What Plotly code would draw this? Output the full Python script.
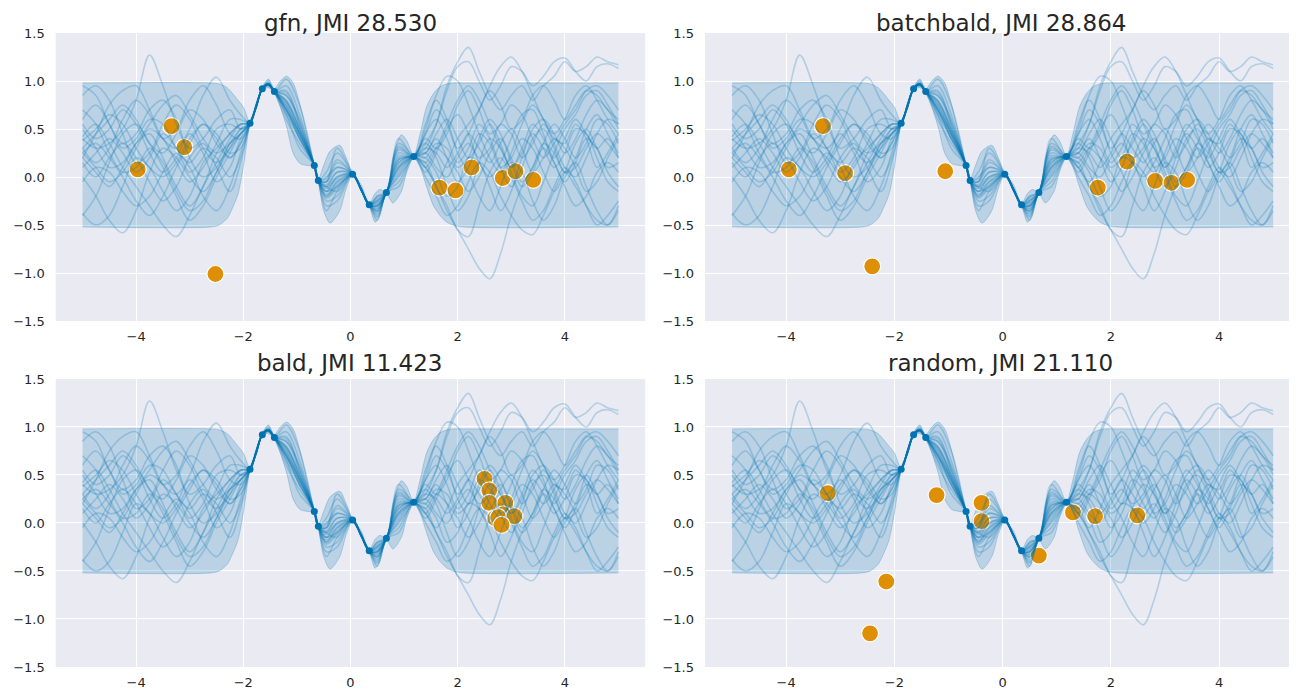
import plotly.graph_objects as go

BLUE = "#0173B2"
ORANGE = "#DE8F05"
LINE_RGBA = "rgba(1,115,178,0.24)"
FILL_RGBA = "rgba(1,115,178,0.2)"

titles = ["gfn, JMI 28.530", "batchbald, JMI 28.864", "bald, JMI 11.423", "random, JMI 21.110"]

x_ticks = [-4, -2, 0, 2, 4]
x_ticktext = ["\u22124", "\u22122", "0", "2", "4"]
y_ticks = [-1.5, -1.0, -0.5, 0.0, 0.5, 1.0, 1.5]
y_ticktext = ["\u22121.5", "\u22121.0", "\u22120.5", "0.0", "0.5", "1.0", "1.5"]

# observed (training) points
train_x = [-1.875, -1.645, -1.42, -0.675, -0.60, 0.04, 0.35, 0.67, 1.18]
train_y = [0.56, 0.92, 0.89, 0.12, -0.035, 0.03, -0.29, -0.16, 0.215]

# acquired points per method
gfn_x = [-3.97, -3.34, -3.10, -2.52, 1.66, 1.96, 2.26, 2.84, 3.08, 3.41]
gfn_y = [0.08, 0.53, 0.31, -1.01, -0.11, -0.14, 0.10, -0.01, 0.06, -0.03]
batchbald_x = [-3.95, -3.32, -2.91, -2.41, -1.06, 1.76, 2.30, 2.82, 3.12, 3.41]
batchbald_y = [0.08, 0.53, 0.04, -0.93, 0.06, -0.11, 0.16, -0.04, -0.06, -0.03]
bald_x = [2.50, 2.59, 2.59, 2.89, 2.85, 2.70, 2.76, 3.06, 2.82]
bald_y = [0.46, 0.34, 0.21, 0.21, 0.09, 0.05, 0.06, 0.07, -0.02]
random_x = [-3.23, -2.15, -2.45, -1.22, -0.39, -0.39, 0.67, 1.30, 1.71, 2.49]
random_y = [0.31, -0.61, -1.15, 0.29, 0.21, 0.02, -0.34, 0.11, 0.07, 0.08]

# posterior band (mean +/- 2 std)
band_x = [-5.0, -2.6, -2.45, -2.3, -2.2, -2.1, -2.0, -1.875, -1.76, -1.645, -1.53, -1.42,
          -1.31, -1.19, -1.07, -0.94, -0.8, -0.675, -0.6, -0.5, -0.38, -0.2, -0.08, 0.04,
          0.2, 0.35, 0.46, 0.55, 0.67, 0.79, 0.95, 1.05, 1.18, 1.3, 1.42, 1.55, 1.67, 1.8,
          1.91, 2.1, 5.0]
band_upper = [0.98, 0.98, 0.97, 0.93, 0.87, 0.80, 0.73, 0.57, 0.77, 0.94, 1.02, 0.92,
              1.00, 1.05, 0.98, 0.75, 0.42, 0.13, -0.02, 0.12, 0.27, 0.33, 0.20, 0.04,
              -0.08, -0.28, -0.17, -0.13, -0.15, 0.20, 0.44, 0.38, 0.22, 0.45, 0.73, 0.87,
              0.94, 0.97, 0.98, 0.98, 0.98]
band_lower = [-0.52, -0.52, -0.50, -0.43, -0.32, -0.18, 0.10, 0.55, 0.72, 0.91, 0.93, 0.87,
              0.73, 0.52, 0.25, 0.14, 0.12, 0.11, -0.05, -0.35, -0.48, -0.35, -0.12, 0.02,
              -0.15, -0.30, -0.47, -0.40, -0.17, -0.27, -0.15, 0.05, 0.20, 0.10, -0.10, -0.30,
              -0.40, -0.47, -0.50, -0.52, -0.52]

# posterior sample paths
left_x = [-5.0, -4.75, -4.5, -4.25, -4.0, -3.75, -3.5, -3.25, -3.0, -2.75, -2.5, -2.25]
mid_x = [-2.05, -1.76, -1.53, -1.2, -0.95, -0.45, -0.25, 0.2, 0.5, 0.9]
right_x = [1.4, 1.6, 1.8, 2.0, 2.2, 2.4, 2.6, 2.8, 3.0, 3.2, 3.4, 3.6, 3.8, 4.0, 4.2, 4.4,
           4.6, 4.8, 5.0]

samples_left = [
    [0.40, 0.30, 0.35, 0.50, 0.80, 1.27, 0.95, 0.55, 0.30, 0.40, 0.60, 0.70],
    [0.95, 0.85, 0.55, 0.35, 0.45, 0.70, 0.80, 0.60, 0.20, 0.00, 0.10, 0.35],
    [-0.38, -0.50, -0.40, -0.10, 0.20, 0.10, -0.15, -0.35, -0.20, 0.15, 0.30, 0.45],
    [0.20, 0.45, 0.75, 0.90, 0.95, 0.70, 0.40, 0.30, 0.50, 0.85, 1.04, 0.80],
    [0.00, -0.20, -0.45, -0.58, -0.35, 0.05, 0.30, 0.20, 0.00, -0.15, 0.05, 0.35],
    [0.85, 0.95, 0.80, 0.45, 0.15, 0.25, 0.55, 0.75, 0.60, 0.30, 0.15, 0.30],
    [0.50, 0.30, 0.10, 0.15, 0.35, 0.45, 0.20, -0.10, -0.30, -0.10, 0.25, 0.45],
    [0.25, 0.35, 0.20, 0.00, -0.25, -0.40, -0.20, 0.10, 0.35, 0.55, 0.40, 0.20],
    [-0.40, -0.20, 0.15, 0.45, 0.55, 0.35, 0.10, -0.20, -0.45, -0.30, 0.00, 0.25],
    [0.30, 0.15, 0.30, 0.60, 0.80, 0.65, 0.40, 0.50, 0.80, 0.95, 0.75, 0.45],
    [0.10, 0.25, 0.40, 0.25, 0.05, 0.20, 0.45, 0.30, 0.05, 0.20, 0.50, 0.55],
    [0.60, 0.75, 0.55, 0.30, 0.40, 0.60, 0.55, 0.30, 0.15, 0.30, 0.20, 0.00],
    [0.42, 0.55, 0.35, 0.10, -0.10, -0.30, -0.50, -0.62, -0.40, -0.10, 0.15, 0.40],
    [0.38, 0.50, 0.65, 0.55, 0.30, 0.10, 0.00, 0.15, 0.40, 0.55, 0.45, 0.25],
    [-0.05, 0.10, 0.05, -0.15, -0.30, -0.20, 0.05, 0.25, 0.10, -0.20, -0.35, -0.10],
    [0.20, 0.05, -0.10, 0.10, 0.35, 0.55, 0.75, 0.85, 0.65, 0.40, 0.25, 0.35],
    [0.30, 0.45, 0.60, 0.75, 0.60, 0.35, 0.25, 0.45, 0.70, 0.60, 0.35, 0.20],
    [0.15, 0.00, 0.20, 0.35, 0.20, -0.05, -0.25, -0.10, 0.20, 0.35, 0.10, -0.15],
    [0.70, 0.55, 0.25, 0.05, 0.10, 0.30, 0.15, -0.15, -0.35, -0.25, 0.05, 0.30],
    [0.25, 0.10, -0.05, 0.05, 0.30, 0.50, 0.40, 0.15, -0.05, 0.10, 0.35, 0.60],
    [0.55, 0.40, 0.50, 0.70, 0.55, 0.25, 0.05, 0.20, 0.45, 0.25, -0.05, 0.10],
]
samples_mid = [
    [0.50, 0.74, 0.97, 0.80, 0.50, -0.10, 0.00, -0.13, -0.30, 0.20],
    [0.45, 0.73, 0.95, 0.70, 0.45, -0.15, -0.10, -0.14, -0.40, 0.00],
    [0.55, 0.75, 1.00, 0.95, 0.65, 0.05, 0.25, -0.12, -0.20, 0.35],
    [0.65, 0.75, 0.98, 0.75, 0.45, -0.20, -0.05, -0.13, -0.35, 0.10],
    [0.50, 0.74, 0.96, 0.65, 0.40, -0.05, 0.10, -0.12, -0.25, 0.15],
    [0.45, 0.73, 0.96, 0.85, 0.55, -0.10, -0.15, -0.14, -0.30, 0.25],
    [0.55, 0.74, 0.97, 0.60, 0.35, -0.25, -0.20, -0.13, -0.45, -0.10],
    [0.35, 0.72, 0.95, 0.72, 0.40, -0.10, 0.05, -0.13, -0.28, 0.18],
    [0.45, 0.74, 0.96, 0.78, 0.50, -0.05, 0.30, -0.12, -0.22, 0.30],
    [0.40, 0.73, 0.97, 1.02, 0.75, -0.15, -0.05, -0.13, -0.38, 0.05],
    [0.50, 0.74, 0.96, 0.70, 0.45, -0.30, -0.25, -0.13, -0.33, 0.12],
    [0.20, 0.72, 0.97, 0.85, 0.60, -0.05, 0.15, -0.13, -0.20, 0.40],
    [0.55, 0.74, 0.96, 0.65, 0.30, -0.35, -0.15, -0.13, -0.42, -0.05],
    [0.30, 0.73, 0.98, 0.90, 0.55, 0.00, 0.10, -0.13, -0.25, 0.28],
    [0.25, 0.73, 0.96, 0.75, 0.45, -0.20, -0.10, -0.13, -0.35, 0.08],
    [0.45, 0.74, 0.97, 0.68, 0.42, -0.12, -0.02, -0.13, -0.30, 0.15],
    [0.35, 0.73, 0.96, 0.80, 0.52, -0.08, 0.05, -0.13, -0.27, 0.22],
    [0.15, 0.72, 0.97, 0.72, 0.48, -0.15, 0.00, -0.13, -0.32, 0.10],
    [0.50, 0.74, 0.97, 0.78, 0.48, -0.18, -0.08, -0.13, -0.30, 0.18],
    [0.60, 0.75, 0.97, 0.88, 0.58, -0.02, 0.18, -0.12, -0.24, 0.32],
    [0.40, 0.73, 0.96, 0.70, 0.40, -0.22, -0.12, -0.13, -0.36, 0.02],
]
samples_right = [
    [0.30, 0.55, 0.95, 1.20, 1.35, 1.10, 0.85, 0.70, 0.85, 0.95, 0.80, 0.95, 1.05, 1.20, 1.10, 1.15, 1.25, 1.20, 1.17],
    [0.35, 0.20, -0.10, -0.35, -0.20, 0.15, 0.40, 0.30, 0.05, -0.20, -0.30, -0.05, 0.25, 0.50, 0.65, 0.85, 0.90, 0.75, 0.55],
    [0.15, -0.10, -0.30, -0.55, -0.62, -0.30, 0.05, 0.20, 0.00, -0.25, -0.45, -0.35, -0.10, 0.10, -0.05, -0.30, -0.50, -0.40, -0.25],
    [0.25, 0.45, 0.60, 0.40, 0.20, 0.35, 0.55, 0.35, 0.10, 0.25, 0.50, 0.60, 0.45, 0.25, 0.40, 0.65, 0.80, 0.70, 0.50],
    [0.10, -0.10, -0.35, -0.55, -0.75, -0.95, -1.06, -0.80, -0.40, -0.10, 0.10, 0.35, 0.25, 0.05, 0.10, 0.30, 0.45, 0.35, 0.20],
    [0.50, 0.85, 1.05, 1.00, 0.75, 0.45, 0.20, 0.05, 0.25, 0.55, 0.75, 0.60, 0.35, 0.10, 0.00, 0.20, 0.45, 0.60, 0.55],
    [0.20, 0.35, 0.30, 0.10, 0.20, 0.45, 0.35, 0.10, 0.20, 0.40, 0.30, 0.05, -0.15, 0.05, 0.35, 0.50, 0.30, 0.10, 0.15],
    [0.30, 0.25, 0.10, 0.25, 0.45, 0.30, 0.15, 0.35, 0.50, 0.30, 0.05, 0.20, 0.40, 0.30, 0.10, -0.15, -0.05, 0.20, 0.40],
    [0.55, 0.80, 0.60, 0.25, 0.05, -0.20, -0.35, -0.10, 0.15, 0.05, -0.25, -0.45, -0.30, 0.00, 0.15, -0.10, -0.35, -0.50, -0.30],
    [0.10, -0.05, 0.15, 0.40, 0.55, 0.70, 0.95, 1.15, 1.25, 1.10, 0.85, 0.60, 0.45, 0.60, 0.85, 0.95, 0.80, 0.60, 0.45],
    [0.20, 0.05, -0.20, -0.10, 0.20, 0.15, -0.10, -0.35, -0.15, 0.20, 0.45, 0.30, 0.10, 0.25, 0.50, 0.45, 0.20, -0.05, -0.15],
    [0.35, 0.55, 0.90, 1.15, 1.20, 1.00, 0.80, 0.95, 1.15, 1.10, 0.95, 1.05, 1.20, 1.24, 1.10, 1.00, 1.15, 1.18, 1.13],
    [0.00, -0.20, -0.40, -0.30, -0.05, 0.15, 0.05, -0.20, -0.40, -0.55, -0.60, -0.40, -0.15, 0.05, -0.10, -0.30, -0.45, -0.50, -0.35],
    [0.40, 0.30, 0.45, 0.75, 0.90, 0.70, 0.45, 0.55, 0.75, 0.65, 0.40, 0.20, 0.35, 0.55, 0.70, 0.90, 0.95, 0.85, 0.70],
    [0.25, 0.10, 0.00, 0.20, 0.35, 0.20, 0.30, 0.55, 0.45, 0.20, 0.35, 0.55, 0.40, 0.35, 0.55, 0.40, 0.10, 0.25, 0.45],
    [0.15, 0.30, 0.20, 0.05, -0.15, 0.00, 0.25, 0.40, 0.20, -0.05, 0.10, 0.30, 0.15, -0.10, -0.30, -0.20, 0.05, 0.15, 0.05],
    [0.45, 0.70, 0.55, 0.30, 0.45, 0.70, 0.90, 0.75, 0.50, 0.60, 0.85, 0.95, 0.80, 0.60, 0.75, 0.90, 0.85, 0.70, 0.60],
    [0.05, 0.25, 0.50, 0.65, 0.45, 0.15, 0.00, 0.15, 0.40, 0.65, 0.70, 0.45, 0.20, 0.40, 0.60, 0.45, 0.30, 0.40, 0.20],
    [0.25, 0.40, 0.20, -0.05, 0.10, 0.40, 0.60, 0.45, 0.15, -0.10, 0.05, 0.35, 0.55, 0.40, 0.20, 0.35, 0.60, 0.55, 0.35],
    [0.45, 0.60, 0.40, 0.15, 0.30, 0.55, 0.40, 0.10, -0.10, 0.10, 0.40, 0.50, 0.30, 0.05, 0.20, 0.50, 0.65, 0.45, 0.25],
    [0.10, 0.30, 0.55, 0.80, 0.95, 0.80, 0.55, 0.30, 0.10, 0.30, 0.55, 0.40, 0.15, -0.05, 0.15, 0.40, 0.30, 0.05, -0.10],
]

panels = [
    (titles[0], gfn_x, gfn_y),
    (titles[1], batchbald_x, batchbald_y),
    (titles[2], bald_x, bald_y),
    (titles[3], random_x, random_y),
]

x_domains = [[0.0368, 0.4913], [0.5374, 0.9938], [0.0368, 0.4913], [0.5374, 0.9938]]
y_domains = [[0.5483, 0.9639], [0.5483, 0.9639], [0.0491, 0.4647], [0.0491, 0.4647]]
x_ranges = [[-5.5, 5.5], [-5.5, 5.44], [-5.5, 5.5], [-5.5, 5.44]]
title_x = [0.2640, 0.7656, 0.2640, 0.7656]
title_y = [0.9784, 0.9784, 0.4877, 0.4877]


def build_path(i):
    pts = list(zip(left_x, samples_left[i])) + list(zip(mid_x, samples_mid[i])) \
        + list(zip(train_x, train_y)) + list(zip(right_x, samples_right[i]))
    pts.sort(key=lambda p: p[0])
    return [p[0] for p in pts], [p[1] for p in pts]


paths = [build_path(i) for i in range(len(samples_left))]

fig = go.Figure()
annotations = []
for k, (title, ox, oy) in enumerate(panels):
    xa = "x" if k == 0 else f"x{k+1}"
    ya = "y" if k == 0 else f"y{k+1}"
    # band
    fig.add_trace(go.Scatter(x=band_x, y=band_lower, mode="lines", line=dict(color="rgba(1,115,178,0.25)", width=1, shape="spline", smoothing=0.8),
                             xaxis=xa, yaxis=ya, showlegend=False, hoverinfo="skip"))
    fig.add_trace(go.Scatter(x=band_x, y=band_upper, mode="lines", line=dict(color="rgba(1,115,178,0.25)", width=1, shape="spline", smoothing=0.8),
                             fill="tonexty", fillcolor=FILL_RGBA,
                             xaxis=xa, yaxis=ya, showlegend=False, hoverinfo="skip"))
    # acquired points
    fig.add_trace(go.Scatter(x=ox, y=oy, mode="markers",
                             marker=dict(color=ORANGE, size=17, line=dict(color="white", width=1.2)),
                             xaxis=xa, yaxis=ya, showlegend=False))
    # sample paths
    for px, py in paths:
        fig.add_trace(go.Scatter(x=px, y=py, mode="lines",
                                 line=dict(color=LINE_RGBA, width=1.6, shape="spline", smoothing=1.0),
                                 xaxis=xa, yaxis=ya, showlegend=False, hoverinfo="skip"))
    # training points
    fig.add_trace(go.Scatter(x=train_x, y=train_y, mode="markers",
                             marker=dict(color=BLUE, size=7),
                             xaxis=xa, yaxis=ya, showlegend=False))
    annotations.append(dict(text=title, x=title_x[k], y=title_y[k], xref="paper", yref="paper",
                            xanchor="center", yanchor="middle", showarrow=False,
                            borderpad=0, borderwidth=0,
                            font=dict(size=23, color="#262626", family="DejaVu Sans")))

layout = dict(
    width=1297, height=693,
    margin=dict(l=0, r=0, t=0, b=0, autoexpand=False),
    paper_bgcolor="white",
    plot_bgcolor="#EAEAF2",
    font=dict(family="DejaVu Sans", size=13, color="#262626"),
    annotations=annotations,
    showlegend=False,
)
for k in range(4):
    xn = "xaxis" if k == 0 else f"xaxis{k+1}"
    yn = "yaxis" if k == 0 else f"yaxis{k+1}"
    ya = "y" if k == 0 else f"y{k+1}"
    xa = "x" if k == 0 else f"x{k+1}"
    layout[xn] = dict(domain=x_domains[k], range=x_ranges[k], anchor=ya, automargin=False,
                      tickvals=x_ticks, ticktext=x_ticktext, showgrid=True, gridcolor="white",
                      gridwidth=1.2, zeroline=False, showline=False, ticks="",
                      ticklabelstandoff=6, tickfont=dict(size=13, color="#262626"))
    layout[yn] = dict(domain=y_domains[k], range=[-1.5, 1.5], anchor=xa, automargin=False,
                      tickvals=y_ticks, ticktext=y_ticktext, showgrid=True, gridcolor="white",
                      gridwidth=1.2, zeroline=False, showline=False, ticks="",
                      ticklabelstandoff=10, tickfont=dict(size=13, color="#262626"))

fig.update_layout(**layout)
fig.write_html("out.html")
